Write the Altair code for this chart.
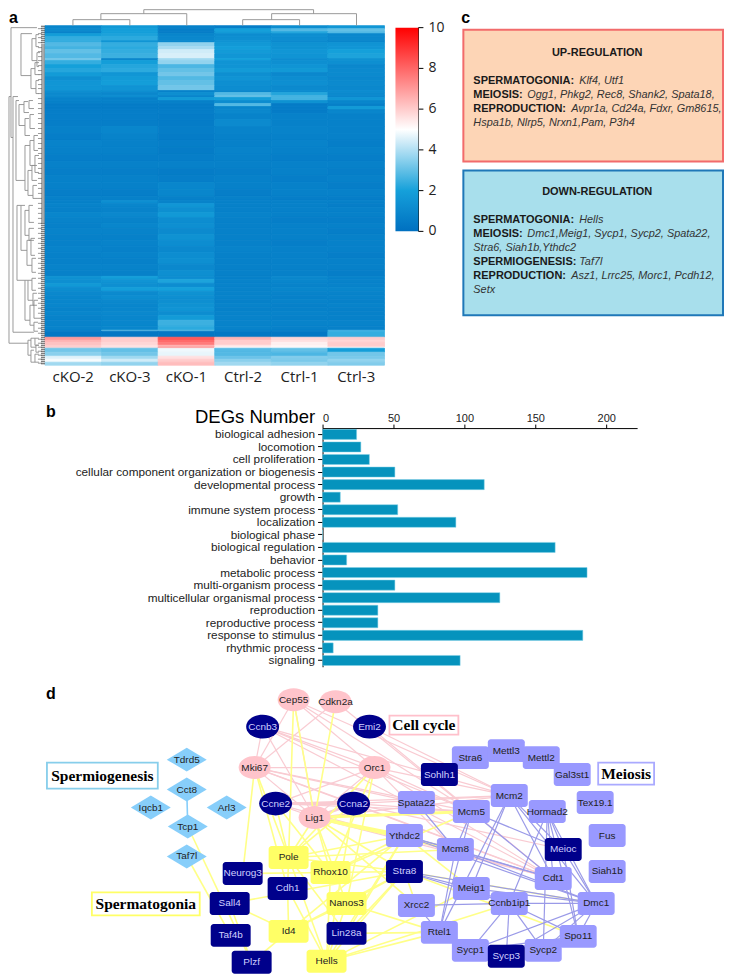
import altair as alt
import pandas as pd

# ---------- panel a: heat map ----------
heat_columns = ["cKO-2", "cKO-3", "cKO-1", "Ctrl-2", "Ctrl-1", "Ctrl-3"]
heat_spans = [3,3,2,3,4,2,4,3,4,5,2,4,4,4,4,4,5,5,2,3,2,3,3,3,
              3,4,6,7,7,7,7,7,7,7,7,7,7,7,4,3,4,5,5,6,5,6,6,6,6,6,6,6,6,3,4,4,4,4,4,4,4,4,4,5,6,4,1,
              6,3,2,3,2,1,4,4,3,3,3]
heat_rows = [
 [0.9,1.7,0.7,0.6,1.2,1.6],[1.1,1.9,0.6,2.0,2.8,3.0],[0.8,1.9,0.6,1.8,2.2,2.8],[1.9,2.1,0.9,1.2,1.3,1.0],
 [2.4,2.3,1.0,1.3,1.2,1.0],[2.4,1.6,1.1,1.5,1.1,0.9],[2.8,2.4,3.6,1.7,1.4,1.5],[2.6,2.3,3.9,1.9,1.4,1.6],
 [3.0,2.4,4.4,1.8,1.6,2.0],[2.8,2.5,4.5,1.6,1.5,2.1],[3.2,1.0,3.8,2.0,1.2,1.4],[2.4,1.9,3.6,1.5,1.3,1.3],
 [2.0,2.2,2.7,1.5,1.5,1.0],[2.2,2.3,3.0,1.8,1.7,1.1],[1.8,1.6,3.2,1.3,1.0,1.1],[1.3,1.8,2.8,1.5,1.2,1.0],
 [1.6,1.9,3.0,1.3,1.3,1.1],[1.6,1.5,3.2,1.2,1.1,1.0],[1.3,1.3,0.8,1.0,1.2,1.2],[1.1,1.0,1.3,2.8,2.2,1.1],
 [1.1,1.2,0.9,3.0,2.6,1.0],[0.8,0.7,1.8,1.9,2.6,1.6],[0.7,0.7,0.7,1.2,1.4,0.9],[0.5,0.5,0.5,2.8,0.5,0.7],
 [0.5,0.5,0.5,0.9,0.5,1.8],[0.6,0.6,0.6,1.0,0.5,0.9],[0.6,0.6,0.5,0.8,0.7,0.7],[0.6,0.6,0.5,1.1,0.7,0.7],
 [0.7,0.9,0.6,0.8,0.8,0.7],[0.6,0.8,0.5,0.7,0.7,0.7],[0.8,0.7,0.6,0.7,0.8,0.6],[0.7,0.7,0.5,0.8,0.7,0.7],
 [0.6,0.6,0.6,0.7,0.6,0.6],[0.7,0.7,0.7,0.7,0.7,0.7],[0.6,0.6,0.5,0.6,0.7,0.6],[0.7,0.7,0.6,0.7,0.6,0.7],
 [0.7,0.7,0.9,0.7,0.7,0.6],[0.6,0.6,0.9,0.6,0.7,0.7],[0.7,0.7,0.7,0.7,0.6,0.6],[0.7,1.3,0.8,0.7,0.7,0.7],
 [0.8,0.9,1.6,0.7,0.7,0.6],[0.7,0.8,1.3,0.7,0.7,0.7],[0.9,1.0,1.7,0.8,0.7,0.7],[0.8,0.8,1.2,0.7,0.6,0.6],
 [0.7,0.9,1.3,0.7,0.7,0.7],[0.8,0.8,1.1,0.7,0.7,0.6],[0.7,0.7,1.4,0.7,0.7,0.7],[0.7,0.8,1.2,0.7,0.6,0.7],
 [0.8,0.7,1.0,0.8,0.7,0.7],[0.7,0.8,1.2,0.7,0.7,0.6],[0.7,0.7,1.3,0.7,0.7,0.7],[0.8,0.8,1.0,0.7,0.7,0.7],
 [0.7,0.7,1.3,0.7,0.7,0.6],[1.4,1.9,1.2,0.7,1.0,0.8],[1.3,1.5,2.1,0.8,0.9,0.8],[1.7,1.3,1.2,0.8,0.8,0.8],
 [1.2,1.9,2.0,0.8,0.9,0.9],[1.0,1.1,1.4,0.8,0.8,0.8],[0.9,1.2,1.3,0.8,0.7,0.8],[0.9,1.0,1.3,0.7,0.8,0.7],
 [0.9,0.9,1.4,0.8,0.7,0.8],[0.8,0.9,1.5,0.7,0.7,0.7],[0.9,1.0,1.2,0.8,0.8,0.7],[0.8,0.9,1.8,0.8,0.7,0.7],
 [0.8,0.9,2.5,0.8,0.8,0.8],[0.8,0.9,2.3,0.8,0.7,0.7],[0.7,3.0,3.0,0.7,0.7,2.6],
 [0.3,0.3,0.3,0.3,0.3,2.4],[7.0,6.0,8.3,6.5,5.8,6.0],[6.5,6.0,8.0,6.0,5.6,5.8],[6.2,5.8,7.6,6.0,5.3,6.0],
 [6.0,5.6,6.5,5.5,5.2,6.0],[5.8,5.5,7.2,5.0,5.0,5.0],[3.2,3.0,4.8,2.8,3.0,1.9],[3.5,3.2,4.7,2.8,2.7,3.2],
 [4.6,3.8,5.6,3.1,3.4,3.3],[4.9,4.4,6.0,3.5,3.3,3.6],[3.8,3.6,6.3,3.8,3.6,3.4],
]
heat_top = 25
color_ticks = [0, 2, 4, 6, 8, 10]
color_stops = [0, 2, 5, 10]
color_range = ["#0070C0", "#15A0DA", "#FFFFFF", "#FF0000"]

# dendrograms: stem x, top y, bottom y, right end of top arm, right end of bottom arm
row_tree = [
 (8,96,343,10,27),(10,27,137,36,12),(12,96,332,17,33),(20,33,75,31,30),(31,38,60,35,36),(30,68,88,34,35),
 (35,34,46,38,38),(36,52,66,39,38),(34,62,74,38,39),(35,80,93,38,38),(15,100,180,18,24),(18,104,125,23,24),
 (23,101,112,27,28),(24,118,135,28,29),(24,145,190,29,27),(29,140,165,33,34),(27,170,195,31,32),(28,100,108,32,33),
 (29,114,128,33,34),(33,135,150,37,37),(34,155,172,38,38),(31,165,180,36,36),(32,185,198,36,37),(16,205,280,20,24),
 (20,205,250,24,26),(24,210,235,28,28),(26,240,265,30,31),(28,205,222,32,33),(28,228,240,33,33),(30,238,255,34,34),
 (31,258,272,35,35),(24,280,320,27,29),(27,280,300,31,32),(29,305,325,33,33),(31,278,290,35,35),(32,293,305,36,36),
 (33,300,318,37,37),(33,322,331,37,37),(27,340,355,30,30),(30,338,347,34,35),(30,350,362,33,34),(34,338,345,38,38),
 (35,345,352,38,38),(34,354,362,38,38),
]
col_tree = [  # y of the bar, left x, right x, left bottom y, right bottom y
 (9,143,313,13,13),(13,100,186,19,25),(19,72,129,25,25),(13,271,356,19,25),(19,242,299,25,25),
]
leaf_rows = [28,33,37,42,47,51,56,60,65,70,74,79,84,88,93,98,103,108,113,118,123,128,133,138,143,148,153,158,163,168,
             173,178,183,188,193,198,203,208,213,218,223,228,233,238,243,248,253,258,263,268,273,278,283,288,293,298,
             303,308,313,318,323,328,333,339,343,347,351,355,359,363]

# ---------- panel b: bars ----------
go_terms = ["biological adhesion","locomotion","cell proliferation","cellular component organization or biogenesis",
            "developmental process","growth","immune system process","localization","biological phase",
            "biological regulation","behavior","metabolic process","multi-organism process",
            "multicellular organismal process","reproduction","reproductive process","response to stimulus",
            "rhythmic process","signaling"]
deg_counts = [24,27,33,51,114,12.5,53,94,0,164,17,186.5,51,125,39,39,183.5,7.5,97]

# ---------- panel c: text boxes ----------
box_bold = [("UP-REGULATION",597,52,"center"),("SPERMATOGONIA:",473,80,"left"),("MEIOSIS:",473,94,"left"),
            ("REPRODUCTION:",473,108,"left"),("DOWN-REGULATION",597,192,"center"),("SPERMATOGONIA:",473,220,"left"),
            ("MEIOSIS:",473,234,"left"),("SPERMIOGENESIS:",473,262,"left"),("REPRODUCTION:",473,276,"left")]
box_italic = [("Klf4, Utf1",579,80),("Ogg1, Phkg2, Rec8, Shank2, Spata18,",527,94),
              ("Avpr1a, Cd24a, Fdxr, Gm8615,",571,108),("Hspa1b, Nlrp5, Nrxn1,Pam, P3h4",473,122),
              ("Hells",579,220),("Dmc1,Meig1, Sycp1, Sycp2, Spata22,",527,234),("Stra6, Siah1b,Ythdc2",473,248),
              ("Taf7l",579,262),("Asz1, Lrrc25, Morc1, Pcdh12,",571,276),("Setx",473,290)]

# ---------- panel d: network ----------
pink_nodes = {"Cep55":(293,700),"Cdkn2a":(335,702),"Mki67":(254,768),"Orc1":(374,768),"Lig1":(314,818)}
navy_ovals = {"Ccnb3":(262,727),"Emi2":(369,727),"Ccne2":(275,804),"Ccna2":(353,804)}
blue_nodes = {"Tdrd5":(186,760),"Cct8":(186,790),"Iqcb1":(150,808),"Arl3":(226,808),"Tcp1":(187,827),"Taf7l":(186,857)}
yellow_nodes = {"Pole":(288,858),"Rhox10":(330,873),"Nanos3":(346,904),"Id4":(288,932),"Hells":(326,962)}
navy_gonia = {"Neurog3":(242,874),"Cdh1":(287,889),"Sall4":(229,904),"Taf4b":(230,936),"Plzf":(251,963),"Lin28a":(346,934)}
lav_nodes = {"Stra6":(470,758),"Mettl3":(506,751),"Mettl2":(541,758),"Gal3st1":(572,775),"Spata22":(416,803),
             "Mcm2":(509,796),"Mcm5":(471,812),"Hormad2":(547,812),"Tex19.1":(595,803),"Fus":(607,836),
             "Ythdc2":(404,836),"Mcm8":(455,850),"Siah1b":(607,872),"Cdt1":(553,879),"Meig1":(471,889),
             "Ccnb1ip1":(509,904),"Dmc1":(596,904),"Xrcc2":(416,906),"Rtel1":(439,933),"Spo11":(578,937),
             "Sycp1":(470,951),"Sycp2":(543,951)}
navy_meiosis = {"Sohlh1":(439,775),"Meioc":(563,850),"Stra8":(404,872),"Sycp3":(506,957)}

pink_edges = ["Cep55-Mki67","Cep55-Orc1","Cep55-Mcm2","Cep55-Mcm5","Cdkn2a-Mki67","Cdkn2a-Mcm5","Ccnb3-Orc1","Ccnb3-Mcm2",
 "Ccnb3-Mcm5","Ccnb3-Lig1","Ccnb3-Mki67","Ccnb3-Cdt1","Emi2-Mcm2","Emi2-Cdt1","Mki67-Orc1","Mki67-Mcm5","Mki67-Lig1","Mki67-Ccna2",
 "Mki67-Spata22","Mki67-Cdt1","Ccne2-Lig1","Ccne2-Orc1","Ccne2-Mcm2","Ccne2-Mcm5","Ccne2-Cdt1","Ccna2-Mcm5","Ccna2-Mcm2",
 "Ccna2-Cdt1","Orc1-Mcm2","Orc1-Mcm5","Orc1-Mcm8","Orc1-Lig1","Orc1-Cdt1","Lig1-Mcm2","Lig1-Mcm5","Lig1-Mcm8","Lig1-Cdt1",
 "Cep55-Lig1","Ccna2-Meioc"]
pink_thick = ["Ccne2-Ccna2","Lig1-Ccna2"]
yellow_edges = ["Cep55-Pole","Cep55-Lig1","Cdkn2a-Lig1","Mki67-Neurog3","Mki67-Pole","Mki67-Cdh1","Ccne2-Pole","Ccne2-Rhox10",
 "Ccna2-Pole","Ccna2-Hells","Lig1-Pole","Lig1-Rhox10","Lig1-Nanos3","Lig1-Stra8","Lig1-Xrcc2","Orc1-Pole","Orc1-Rhox10",
 "Orc1-Nanos3","Tcp1-Plzf","Taf7l-Taf4b","Pole-Cdh1","Pole-Hells","Pole-Ythdc2","Pole-Stra8","Pole-Mcm8","Pole-Lin28a",
 "Rhox10-Hells","Rhox10-Stra8","Rhox10-Ythdc2","Rhox10-Mcm5","Nanos3-Stra8","Nanos3-Rtel1","Nanos3-Id4","Nanos3-Hells",
 "Cdh1-Hells","Cdh1-Id4","Sall4-Id4","Sall4-Plzf","Sall4-Stra8","Id4-Ythdc2","Id4-Plzf","Id4-Stra8","Lin28a-Stra8",
 "Lin28a-Ythdc2","Lin28a-Rtel1","Hells-Stra8","Hells-Rtel1","Hells-Ythdc2","Hells-Meig1","Hells-Ccnb1ip1","Stra8-Dmc1",
 "Stra8-Spo11","Ythdc2-Meig1","Xrcc2-Stra8","Neurog3-Rhox10"]
yellow_thick = ["Lig1-Ythdc2","Lig1-Mcm8","Lig1-Mcm5"]
lav_edges = ["Mcm2-Rtel1","Mcm2-Meioc","Mcm2-Dmc1","Mcm2-Cdt1","Mcm5-Meioc","Mcm5-Cdt1","Mcm5-Rtel1","Mcm5-Mcm8","Spata22-Mcm8",
 "Mcm8-Cdt1","Mcm8-Dmc1","Hormad2-Ccnb1ip1","Hormad2-Cdt1","Hormad2-Meioc","Hormad2-Dmc1","Hormad2-Sycp2","Hormad2-Spo11",
 "Meioc-Dmc1","Meioc-Spo11","Ythdc2-Cdt1","Ythdc2-Dmc1","Ythdc2-Mcm8","Stra8-Meig1","Stra8-Ccnb1ip1","Stra8-Dmc1","Meig1-Dmc1",
 "Meig1-Ccnb1ip1","Xrcc2-Ccnb1ip1","Xrcc2-Rtel1","Ccnb1ip1-Dmc1","Ccnb1ip1-Sycp1","Ccnb1ip1-Sycp2","Ccnb1ip1-Sycp3",
 "Ccnb1ip1-Spo11","Rtel1-Sycp1","Sycp1-Sycp3","Sycp1-Dmc1","Sycp2-Dmc1","Sycp2-Spo11","Spo11-Dmc1","Sycp3-Dmc1","Sycp1-Spo11",
 "Rtel1-Mcm8","Mcm2-Meig1"]
blue_edges = ["Cct8-Tcp1"]
group_labels = [("Spermiogenesis",46,763,157,789,"#87CEEB"),("Spermatogonia",91,893,199,916,"#FFFF66"),
                ("Cell cycle",389,716,458,735,"#FFC0CB"),("Meiosis",598,763,654,785,"#AAAAFF")]

# ---------- shared helpers ----------
CHART_W = 716
H1, H2, H3 = 420, 239, 301
SX1 = alt.Scale(domain=[8, 8 + CHART_W], range=[0, CHART_W], nice=False, zero=False)
SY1 = alt.Scale(domain=[8, 8 + H1], range=[0, H1], nice=False, zero=False)
SY3 = alt.Scale(domain=[667, 667 + H3], range=[0, H3], nice=False, zero=False)
SBX = alt.Scale(domain=heat_columns, range=[36, 376], paddingInner=0, paddingOuter=0)
STICK = alt.Scale(domain=[0, 10], range=[223, 19], nice=False, zero=False)
FONT = "Liberation Sans"

def X(f, s=SX1): return alt.X(f, type="quantitative", scale=s, axis=None, title=None)
def Y(f, s=SY1): return alt.Y(f, type="quantitative", scale=s, axis=None, title=None)

# heat cells
cells = []
pos = heat_top
for span, row in zip(heat_spans, heat_rows):
    for c, v in zip(heat_columns, row):
        cells.append({"col": c, "y0": pos, "y1": pos + span, "v": v})
    pos += span
heat_scale = alt.Scale(domain=color_stops, range=color_range, interpolate="rgb")
heat = alt.Chart(pd.DataFrame(cells)).mark_rect(strokeWidth=0.8).encode(
    x=alt.X("col:N", scale=SBX, axis=None, title=None),
    y=Y("y0"), y2="y1",
    color=alt.Color("v:Q", scale=heat_scale,
                    legend=alt.Legend(orient="none", legendX=387, legendY=19, title=None, gradientLength=204,
                                      gradientThickness=23, labelOpacity=0, values=color_ticks, labelFontSize=1)),
    stroke=alt.Stroke("v:Q", scale=heat_scale, legend=None),
)
col_labels = alt.Chart(pd.DataFrame({"col": heat_columns, "y": [377] * 6})).mark_text(
    font="Open Sans", fontSize=15, color="#222222").encode(
    x=alt.X("col:N", scale=SBX, axis=None, title=None), y=Y("y"), text="col:N")

seg = []
for x, y0, y1, r0, r1 in row_tree:
    seg += [(x, y0, x, y1), (x, y0, r0, y0), (x, y1, r1, y1)]
for y, x0, x1, b0, b1 in col_tree:
    seg += [(x0, y, x1, y), (x0, y, x0, b0), (x1, y, x1, b1)]
for y in leaf_rows:
    seg.append((37, y, 41, y))
seg_df = pd.DataFrame(seg, columns=["x0", "y0", "x1", "y1"])
tree = alt.Chart(seg_df).mark_rule(color="#8f8f8f", strokeWidth=0.9).encode(
    x=X("x0"), x2="x1", y=Y("y0"), y2="y1")
leaf_band = alt.Chart(pd.DataFrame({"x": [42], "y0": [25], "y1": [365]})).mark_rule(
    color="#555555", strokeWidth=4, strokeDash=[1, 1]).encode(x=X("x"), y=Y("y0"), y2="y1")

tick_df = pd.DataFrame({"t": color_ticks, "x0": [418] * 6, "x1": [423] * 6, "lx": [428] * 6,
                        "label": [str(t) for t in color_ticks]})
cb_ticks = alt.Chart(tick_df).mark_rule(color="black", strokeWidth=1).encode(x=X("x0"), x2="x1", y=Y("t", STICK))
cb_line = alt.Chart(pd.DataFrame({"x": [418], "a": [0], "b": [10]})).mark_rule(color="black", strokeWidth=1).encode(
    x=X("x"), y=Y("a", STICK), y2="b")
cb_text = alt.Chart(tick_df).mark_text(font="Open Sans", fontSize=14, align="left", color="#222222").encode(
    x=X("lx"), y=Y("t", STICK), text="label:N")

def box(x0, y0, x1, y1, fill, stroke, w=2):
    return alt.Chart(pd.DataFrame({"x0": [x0], "y0": [y0], "x1": [x1], "y1": [y1]})).mark_rect(
        fill=fill, stroke=stroke, strokeWidth=w).encode(x=X("x0"), x2="x1", y=Y("y0"), y2="y1")

box_up = box(463, 29, 723, 161, "#FDD5B6", "#F26B6B")
box_down = box(463, 170, 723, 315, "#A8DFEC", "#1F78B8")
bold_df = pd.DataFrame(box_bold, columns=["t", "x", "y", "a"])
bold_l = alt.Chart(bold_df[bold_df.a == "left"]).mark_text(font=FONT, fontSize=11, fontWeight="bold", align="left", color="#1a1a1a").encode(x=X("x"), y=Y("y"), text="t:N")
bold_c = alt.Chart(bold_df[bold_df.a == "center"]).mark_text(font=FONT, fontSize=11, fontWeight="bold", align="center", color="#1a1a1a").encode(x=X("x"), y=Y("y"), text="t:N")
ital = alt.Chart(pd.DataFrame(box_italic, columns=["t", "x", "y"])).mark_text(font=FONT, fontSize=10.9, fontStyle="italic", align="left", color="#333333").encode(x=X("x"), y=Y("y"), text="t:N")
tags1 = alt.Chart(pd.DataFrame({"t": ["a", "c", "b"], "x": [8, 461, 45], "y": [17, 17, 412]})).mark_text(
    font=FONT, fontSize=16, fontWeight="bold", align="left", color="black").encode(x=X("x"), y=Y("y"), text="t:N")

panel_a = alt.layer(heat, col_labels, tree, leaf_band, cb_line, cb_ticks, cb_text, box_up, box_down, bold_l, bold_c, ital, tags1
    ).resolve_scale(x="independent", y="independent", color="independent").properties(width=CHART_W, height=H1)

# bars
bar_df = pd.DataFrame({"term": go_terms, "n": deg_counts})
panel_b = alt.Chart(bar_df).mark_bar(color="#0693BD", stroke="#7FD0E6", strokeWidth=0.5).encode(
    x=alt.X("n:Q", scale=alt.Scale(domain=[0, 221.8], range=[314, 629], nice=False),
            axis=alt.Axis(orient="top", values=[0, 50, 100, 150, 200], grid=False, title="DEGs Number", titleFontSize=18.5,
                          titleFontWeight="normal", titleFont=FONT, titleAlign="right", titleAnchor="start", titleX=306, titleY=-2,
                          titleBaseline="bottom", labelFont=FONT, labelFontSize=11, labelColor="#222222",
                          domainColor="black", tickColor="black", tickSize=4, labelPadding=1)),
    y=alt.Y("term:N", sort=go_terms, scale=alt.Scale(paddingInner=0.2, paddingOuter=0.1),
            axis=alt.Axis(orient="left", offset=-314, title=None, grid=False, labelFont=FONT, labelFontSize=11.8, labelColor="#222222",
                          domainColor="black", tickColor="black", tickSize=5, labelPadding=3, labelLimit=300)),
).properties(width=CHART_W, height=H2)

# network
all_pos = {}
for d in (pink_nodes, navy_ovals, blue_nodes, yellow_nodes, navy_gonia, lav_nodes, navy_meiosis):
    all_pos.update(d)

def edges(names, color, w):
    rows = []
    for e in names:
        a, b = e.split("-")
        rows.append({"x0": all_pos[a][0], "y0": all_pos[a][1], "x1": all_pos[b][0], "y1": all_pos[b][1]})
    return alt.Chart(pd.DataFrame(rows)).mark_rule(color=color, strokeWidth=w).encode(
        x=X("x0"), x2="x1", y=Y("y0", SY3), y2="y1")

def node_df(d):
    return pd.DataFrame([{"name": k, "x": v[0], "y": v[1]} for k, v in d.items()])

OVAL = "M-1,0A1,0.72,0,1,1,1,0A1,0.72,0,1,1,-1,0Z"
DIAMOND = "M-1,0L0,-0.6L1,0L0,0.6Z"

def symbols(d, color, shape, size):
    return alt.Chart(node_df(d)).mark_point(filled=True, opacity=1, color=color, shape=shape, size=size).encode(
        x=X("x"), y=Y("y", SY3))

def rects(d, color, w, h=23):
    return alt.Chart(node_df(d)).mark_rect(color=color, width=w, height=h, cornerRadius=3).encode(
        x=X("x"), y=Y("y", SY3))

def labels(d, color):
    return alt.Chart(node_df(d)).mark_text(font=FONT, fontSize=10, color=color).encode(
        x=X("x"), y=Y("y", SY3), text="name:N")

grp_df = pd.DataFrame(group_labels, columns=["t", "x0", "y0", "x1", "y1", "c"])
grp_df["cx"] = (grp_df.x0 + grp_df.x1) / 2
grp_df["cy"] = (grp_df.y0 + grp_df.y1) / 2
grp_boxes = alt.Chart(grp_df).mark_rect(fill="white", strokeWidth=1.8).encode(
    x=X("x0"), x2="x1", y=Y("y0", SY3), y2="y1", stroke=alt.Stroke("c:N", scale=None))
grp_text = alt.Chart(grp_df).mark_text(font="Liberation Serif", fontSize=15.5, fontWeight="bold", color="black").encode(
    x=X("cx"), y=Y("cy", SY3), text="t:N")
tag_d = alt.Chart(pd.DataFrame({"t": ["d"], "x": [45], "y": [694]})).mark_text(
    font=FONT, fontSize=16, fontWeight="bold", align="left", color="black").encode(x=X("x"), y=Y("y", SY3), text="t:N")

panel_d = alt.layer(
    edges(pink_edges, "#F9CBD2", 1.2), edges(pink_thick, "#F9CBD2", 3),
    edges(yellow_edges, "#FFFF88", 1.6), edges(yellow_thick, "#FFFF88", 3),
    edges(lav_edges, "#9A9AE8", 1.2), edges(blue_edges, "#87CEFA", 1.6),
    symbols(pink_nodes, "#FFC4CB", OVAL, 1024), symbols(navy_ovals, "#00008B", OVAL, 1089),
    symbols(blue_nodes, "#87CEFA", DIAMOND, 1600),
    rects(yellow_nodes, "#FFFF66", 40), rects(navy_gonia, "#00008B", 40), rects(lav_nodes, "#9999FF", 37),
    rects(navy_meiosis, "#00008B", 37),
    labels(pink_nodes, "#222222"), labels(navy_ovals, "#D0D0FF"), labels(blue_nodes, "#222222"),
    labels(yellow_nodes, "#222222"), labels(navy_gonia, "#D0D0FF"), labels(lav_nodes, "#222222"), labels(navy_meiosis, "#D0D0FF"),
    grp_boxes, grp_text, tag_d,
).properties(width=CHART_W, height=H3)

chart = alt.vconcat(panel_a, panel_b, panel_d, spacing=0, bounds="flush").properties(padding=0).configure_view(stroke=None)
chart.save("out.html", embed_options={"renderer": "svg", "actions": False})
